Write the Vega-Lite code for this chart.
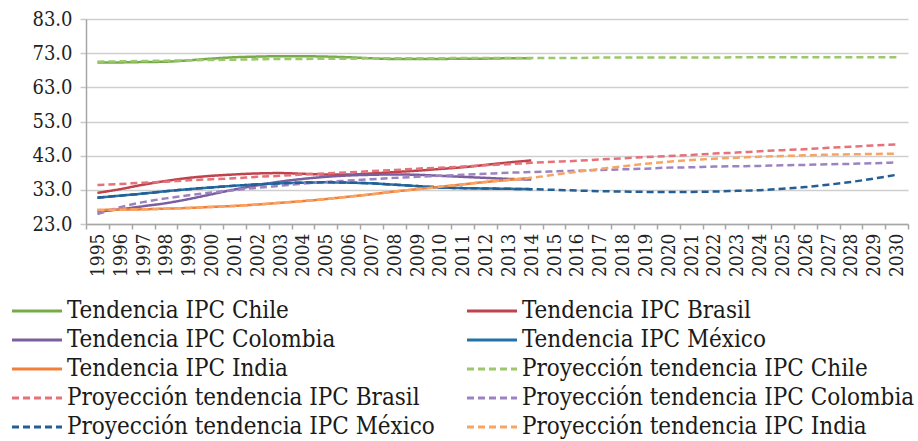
{
  "$schema": "https://vega.github.io/schema/vega-lite/v6.json",
  "autosize": "none",
  "width": 822,
  "height": 205,
  "padding": {"left": 86, "top": 19, "right": 10, "bottom": 217},
  "background": "white",
  "config": {
    "font": "DejaVu Serif Condensed, DejaVu Serif",
    "view": {"stroke": null},
    "axis": {"labelFont": "DejaVu Serif Condensed, DejaVu Serif", "labelColor": "#222222"},
    "legend": {"labelFont": "DejaVu Serif Condensed, DejaVu Serif"}
  },
  "data": {
    "values": [
      {"year": "1995", "Tendencia IPC Chile": 70.3, "Tendencia IPC Brasil": 32.1, "Tendencia IPC Colombia": 26.6, "Tendencia IPC México": 30.7, "Tendencia IPC India": 27.1, "Proyección tendencia IPC Chile": 70.5, "Proyección tendencia IPC Brasil": 34.4, "Proyección tendencia IPC Colombia": 25.9, "Proyección tendencia IPC México": 30.7, "Proyección tendencia IPC India": 27.1},
      {"year": "1996", "Tendencia IPC Chile": 70.3, "Tendencia IPC Brasil": 33.2, "Tendencia IPC Colombia": 27.3, "Tendencia IPC México": 31.3, "Tendencia IPC India": 27.2, "Proyección tendencia IPC Chile": 70.6, "Proyección tendencia IPC Brasil": 34.7, "Proyección tendencia IPC Colombia": 27.9, "Proyección tendencia IPC México": 31.3, "Proyección tendencia IPC India": 27.2},
      {"year": "1997", "Tendencia IPC Chile": 70.4, "Tendencia IPC Brasil": 34.5, "Tendencia IPC Colombia": 28.2, "Tendencia IPC México": 31.9, "Tendencia IPC India": 27.3, "Proyección tendencia IPC Chile": 70.7, "Proyección tendencia IPC Brasil": 35.1, "Proyección tendencia IPC Colombia": 29.4, "Proyección tendencia IPC México": 31.9, "Proyección tendencia IPC India": 27.3},
      {"year": "1998", "Tendencia IPC Chile": 70.5, "Tendencia IPC Brasil": 35.6, "Tendencia IPC Colombia": 29.1, "Tendencia IPC México": 32.6, "Tendencia IPC India": 27.5, "Proyección tendencia IPC Chile": 70.8, "Proyección tendencia IPC Brasil": 35.4, "Proyección tendencia IPC Colombia": 30.5, "Proyección tendencia IPC México": 32.6, "Proyección tendencia IPC India": 27.5},
      {"year": "1999", "Tendencia IPC Chile": 70.9, "Tendencia IPC Brasil": 36.5, "Tendencia IPC Colombia": 30.3, "Tendencia IPC México": 33.2, "Tendencia IPC India": 27.7, "Proyección tendencia IPC Chile": 70.9, "Proyección tendencia IPC Brasil": 35.8, "Proyección tendencia IPC Colombia": 31.4, "Proyección tendencia IPC México": 33.2, "Proyección tendencia IPC India": 27.7},
      {"year": "2000", "Tendencia IPC Chile": 71.4, "Tendencia IPC Brasil": 37.1, "Tendencia IPC Colombia": 31.7, "Tendencia IPC México": 33.7, "Tendencia IPC India": 28.0, "Proyección tendencia IPC Chile": 71.0, "Proyección tendencia IPC Brasil": 36.1, "Proyección tendencia IPC Colombia": 32.2, "Proyección tendencia IPC México": 33.7, "Proyección tendencia IPC India": 28.0},
      {"year": "2001", "Tendencia IPC Chile": 71.8, "Tendencia IPC Brasil": 37.5, "Tendencia IPC Colombia": 33.1, "Tendencia IPC México": 34.2, "Tendencia IPC India": 28.3, "Proyección tendencia IPC Chile": 71.1, "Proyección tendencia IPC Brasil": 36.4, "Proyección tendencia IPC Colombia": 32.9, "Proyección tendencia IPC México": 34.2, "Proyección tendencia IPC India": 28.3},
      {"year": "2002", "Tendencia IPC Chile": 72.0, "Tendencia IPC Brasil": 37.8, "Tendencia IPC Colombia": 34.3, "Tendencia IPC México": 34.6, "Tendencia IPC India": 28.7, "Proyección tendencia IPC Chile": 71.2, "Proyección tendencia IPC Brasil": 36.8, "Proyección tendencia IPC Colombia": 33.6, "Proyección tendencia IPC México": 34.6, "Proyección tendencia IPC India": 28.7},
      {"year": "2003", "Tendencia IPC Chile": 72.1, "Tendencia IPC Brasil": 37.9, "Tendencia IPC Colombia": 35.4, "Tendencia IPC México": 34.9, "Tendencia IPC India": 29.2, "Proyección tendencia IPC Chile": 71.3, "Proyección tendencia IPC Brasil": 37.1, "Proyección tendencia IPC Colombia": 34.2, "Proyección tendencia IPC México": 34.9, "Proyección tendencia IPC India": 29.2},
      {"year": "2004", "Tendencia IPC Chile": 72.1, "Tendencia IPC Brasil": 37.7, "Tendencia IPC Colombia": 36.2, "Tendencia IPC México": 35.1, "Tendencia IPC India": 29.7, "Proyección tendencia IPC Chile": 71.3, "Proyección tendencia IPC Brasil": 37.5, "Proyección tendencia IPC Colombia": 34.8, "Proyección tendencia IPC México": 35.1, "Proyección tendencia IPC India": 29.7},
      {"year": "2005", "Tendencia IPC Chile": 72.0, "Tendencia IPC Brasil": 37.5, "Tendencia IPC Colombia": 36.8, "Tendencia IPC México": 35.2, "Tendencia IPC India": 30.3, "Proyección tendencia IPC Chile": 71.4, "Proyección tendencia IPC Brasil": 37.8, "Proyección tendencia IPC Colombia": 35.3, "Proyección tendencia IPC México": 35.2, "Proyección tendencia IPC India": 30.3},
      {"year": "2006", "Tendencia IPC Chile": 71.8, "Tendencia IPC Brasil": 37.5, "Tendencia IPC Colombia": 37.2, "Tendencia IPC México": 35.1, "Tendencia IPC India": 31.0, "Proyección tendencia IPC Chile": 71.4, "Proyección tendencia IPC Brasil": 38.1, "Proyección tendencia IPC Colombia": 35.7, "Proyección tendencia IPC México": 35.1, "Proyección tendencia IPC India": 31.0},
      {"year": "2007", "Tendencia IPC Chile": 71.5, "Tendencia IPC Brasil": 37.8, "Tendencia IPC Colombia": 37.4, "Tendencia IPC México": 34.9, "Tendencia IPC India": 31.7, "Proyección tendencia IPC Chile": 71.5, "Proyección tendencia IPC Brasil": 38.5, "Proyección tendencia IPC Colombia": 36.1, "Proyección tendencia IPC México": 34.9, "Proyección tendencia IPC India": 31.7},
      {"year": "2008", "Tendencia IPC Chile": 71.3, "Tendencia IPC Brasil": 38.2, "Tendencia IPC Colombia": 37.5, "Tendencia IPC México": 34.5, "Tendencia IPC India": 32.5, "Proyección tendencia IPC Chile": 71.5, "Proyección tendencia IPC Brasil": 38.8, "Proyección tendencia IPC Colombia": 36.5, "Proyección tendencia IPC México": 34.5, "Proyección tendencia IPC India": 32.5},
      {"year": "2009", "Tendencia IPC Chile": 71.3, "Tendencia IPC Brasil": 38.6, "Tendencia IPC Colombia": 37.4, "Tendencia IPC México": 34.1, "Tendencia IPC India": 33.2, "Proyección tendencia IPC Chile": 71.5, "Proyección tendencia IPC Brasil": 39.2, "Proyección tendencia IPC Colombia": 36.8, "Proyección tendencia IPC México": 34.1, "Proyección tendencia IPC India": 33.2},
      {"year": "2010", "Tendencia IPC Chile": 71.3, "Tendencia IPC Brasil": 39.1, "Tendencia IPC Colombia": 37.1, "Tendencia IPC México": 33.7, "Tendencia IPC India": 33.9, "Proyección tendencia IPC Chile": 71.5, "Proyección tendencia IPC Brasil": 39.5, "Proyección tendencia IPC Colombia": 37.1, "Proyección tendencia IPC México": 33.7, "Proyección tendencia IPC India": 33.9},
      {"year": "2011", "Tendencia IPC Chile": 71.4, "Tendencia IPC Brasil": 39.6, "Tendencia IPC Colombia": 36.8, "Tendencia IPC México": 33.5, "Tendencia IPC India": 34.6, "Proyección tendencia IPC Chile": 71.6, "Proyección tendencia IPC Brasil": 39.8, "Proyección tendencia IPC Colombia": 37.4, "Proyección tendencia IPC México": 33.5, "Proyección tendencia IPC India": 34.6},
      {"year": "2012", "Tendencia IPC Chile": 71.4, "Tendencia IPC Brasil": 40.3, "Tendencia IPC Colombia": 36.5, "Tendencia IPC México": 33.4, "Tendencia IPC India": 35.3, "Proyección tendencia IPC Chile": 71.6, "Proyección tendencia IPC Brasil": 40.2, "Proyección tendencia IPC Colombia": 37.7, "Proyección tendencia IPC México": 33.4, "Proyección tendencia IPC India": 35.3},
      {"year": "2013", "Tendencia IPC Chile": 71.5, "Tendencia IPC Brasil": 41.0, "Tendencia IPC Colombia": 36.2, "Tendencia IPC México": 33.3, "Tendencia IPC India": 35.9, "Proyección tendencia IPC Chile": 71.6, "Proyección tendencia IPC Brasil": 40.5, "Proyección tendencia IPC Colombia": 38.0, "Proyección tendencia IPC México": 33.3, "Proyección tendencia IPC India": 35.9},
      {"year": "2014", "Tendencia IPC Chile": 71.5, "Tendencia IPC Brasil": 41.6, "Tendencia IPC Colombia": 36.0, "Tendencia IPC México": 33.2, "Tendencia IPC India": 36.5, "Proyección tendencia IPC Chile": 71.6, "Proyección tendencia IPC Brasil": 40.9, "Proyección tendencia IPC Colombia": 38.2, "Proyección tendencia IPC México": 33.2, "Proyección tendencia IPC India": 36.5},
      {"year": "2015", "Proyección tendencia IPC Chile": 71.6, "Proyección tendencia IPC Brasil": 41.2, "Proyección tendencia IPC Colombia": 38.4, "Proyección tendencia IPC México": 33.0, "Proyección tendencia IPC India": 37.4},
      {"year": "2016", "Proyección tendencia IPC Chile": 71.6, "Proyección tendencia IPC Brasil": 41.5, "Proyección tendencia IPC Colombia": 38.6, "Proyección tendencia IPC México": 32.8, "Proyección tendencia IPC India": 38.3},
      {"year": "2017", "Proyección tendencia IPC Chile": 71.7, "Proyección tendencia IPC Brasil": 41.9, "Proyección tendencia IPC Colombia": 38.8, "Proyección tendencia IPC México": 32.6, "Proyección tendencia IPC India": 39.1},
      {"year": "2018", "Proyección tendencia IPC Chile": 71.7, "Proyección tendencia IPC Brasil": 42.2, "Proyección tendencia IPC Colombia": 39.0, "Proyección tendencia IPC México": 32.5, "Proyección tendencia IPC India": 39.9},
      {"year": "2019", "Proyección tendencia IPC Chile": 71.7, "Proyección tendencia IPC Brasil": 42.6, "Proyección tendencia IPC Colombia": 39.2, "Proyección tendencia IPC México": 32.4, "Proyección tendencia IPC India": 40.6},
      {"year": "2020", "Proyección tendencia IPC Chile": 71.7, "Proyección tendencia IPC Brasil": 42.9, "Proyección tendencia IPC Colombia": 39.5, "Proyección tendencia IPC México": 32.4, "Proyección tendencia IPC India": 41.2},
      {"year": "2021", "Proyección tendencia IPC Chile": 71.7, "Proyección tendencia IPC Brasil": 43.2, "Proyección tendencia IPC Colombia": 39.6, "Proyección tendencia IPC México": 32.4, "Proyección tendencia IPC India": 41.7},
      {"year": "2022", "Proyección tendencia IPC Chile": 71.7, "Proyección tendencia IPC Brasil": 43.6, "Proyección tendencia IPC Colombia": 39.8, "Proyección tendencia IPC México": 32.5, "Proyección tendencia IPC India": 42.1},
      {"year": "2023", "Proyección tendencia IPC Chile": 71.8, "Proyección tendencia IPC Brasil": 43.9, "Proyección tendencia IPC Colombia": 39.9, "Proyección tendencia IPC México": 32.7, "Proyección tendencia IPC India": 42.4},
      {"year": "2024", "Proyección tendencia IPC Chile": 71.8, "Proyección tendencia IPC Brasil": 44.3, "Proyección tendencia IPC Colombia": 40.0, "Proyección tendencia IPC México": 32.9, "Proyección tendencia IPC India": 42.7},
      {"year": "2025", "Proyección tendencia IPC Chile": 71.8, "Proyección tendencia IPC Brasil": 44.6, "Proyección tendencia IPC Colombia": 40.2, "Proyección tendencia IPC México": 33.3, "Proyección tendencia IPC India": 42.9},
      {"year": "2026", "Proyección tendencia IPC Chile": 71.8, "Proyección tendencia IPC Brasil": 44.9, "Proyección tendencia IPC Colombia": 40.3, "Proyección tendencia IPC México": 33.8, "Proyección tendencia IPC India": 43.1},
      {"year": "2027", "Proyección tendencia IPC Chile": 71.8, "Proyección tendencia IPC Brasil": 45.3, "Proyección tendencia IPC Colombia": 40.5, "Proyección tendencia IPC México": 34.5, "Proyección tendencia IPC India": 43.3},
      {"year": "2028", "Proyección tendencia IPC Chile": 71.8, "Proyección tendencia IPC Brasil": 45.6, "Proyección tendencia IPC Colombia": 40.6, "Proyección tendencia IPC México": 35.3, "Proyección tendencia IPC India": 43.4},
      {"year": "2029", "Proyección tendencia IPC Chile": 71.8, "Proyección tendencia IPC Brasil": 46.0, "Proyección tendencia IPC Colombia": 40.8, "Proyección tendencia IPC México": 36.3, "Proyección tendencia IPC India": 43.5},
      {"year": "2030", "Proyección tendencia IPC Chile": 71.8, "Proyección tendencia IPC Brasil": 46.3, "Proyección tendencia IPC Colombia": 41.0, "Proyección tendencia IPC México": 37.4, "Proyección tendencia IPC India": 43.6}
    ]
  },
  "transform": [
    {"fold": ["Tendencia IPC Chile", "Tendencia IPC Brasil", "Tendencia IPC Colombia", "Tendencia IPC México", "Tendencia IPC India", "Proyección tendencia IPC Chile", "Proyección tendencia IPC Brasil", "Proyección tendencia IPC Colombia", "Proyección tendencia IPC México", "Proyección tendencia IPC India"], "as": ["series", "value"]}
  ],
  "mark": {"type": "line", "interpolate": "monotone", "strokeWidth": 2.5},
  "encoding": {
    "x": {
      "field": "year", "type": "ordinal",
      "scale": {"paddingInner": 0, "paddingOuter": 0},
      "axis": {
        "title": null, "labelAngle": -90, "labelFontSize": 19, "labelPadding": 4,
        "tickBand": "extent", "tickSize": 5, "tickColor": "#a6a6a6", "tickWidth": 1.5,
        "domainColor": "#a6a6a6", "domainWidth": 1.5, "grid": false
      }
    },
    "y": {
      "field": "value", "type": "quantitative",
      "scale": {"domain": [23, 83], "nice": false, "zero": false},
      "axis": {
        "title": null, "values": [23, 33, 43, 53, 63, 73, 83], "format": ".1f",
        "labelFontSize": 20, "labelPadding": 8, "tickSize": 6, "tickColor": "#c8c8c8", "tickWidth": 1.5,
        "domainColor": "#a6a6a6", "domainWidth": 1.5,
        "grid": true, "gridColor": "#cfcfcf", "gridWidth": 1.5
      }
    },
    "color": {
      "field": "series", "type": "nominal",
      "scale": {
        "domain": ["Tendencia IPC Chile", "Tendencia IPC Colombia", "Tendencia IPC India", "Proyección tendencia IPC Brasil", "Proyección tendencia IPC México", "Tendencia IPC Brasil", "Tendencia IPC México", "Proyección tendencia IPC Chile", "Proyección tendencia IPC Colombia", "Proyección tendencia IPC India"],
        "range": ["#77ab4a", "#7b5e9f", "#f47f3a", "#e5727a", "#255e95", "#c0434b", "#2271a8", "#9bc86a", "#9d82c2", "#f8a563"]
      },
      "legend": {
        "title": null, "orient": "none", "legendX": -61, "legendY": 280, "direction": "vertical",
        "columns": 2, "columnPadding": 26, "rowPadding": 5, "padding": 0,
        "labelFontSize": 24, "labelColor": "#1a1a1a", "labelLimit": 600, "labelOffset": 18,
        "symbolType": "M-2.5,0H2.5", "symbolSize": 400, "symbolStrokeWidth": 3
      }
    },
    "strokeDash": {
      "field": "series", "type": "nominal",
      "scale": {
        "domain": ["Tendencia IPC Chile", "Tendencia IPC Colombia", "Tendencia IPC India", "Proyección tendencia IPC Brasil", "Proyección tendencia IPC México", "Tendencia IPC Brasil", "Tendencia IPC México", "Proyección tendencia IPC Chile", "Proyección tendencia IPC Colombia", "Proyección tendencia IPC India"],
        "range": [[1, 0], [1, 0], [1, 0], [7, 4], [7, 4], [1, 0], [1, 0], [7, 4], [7, 4], [7, 4]]
      }
    }
  }
}
